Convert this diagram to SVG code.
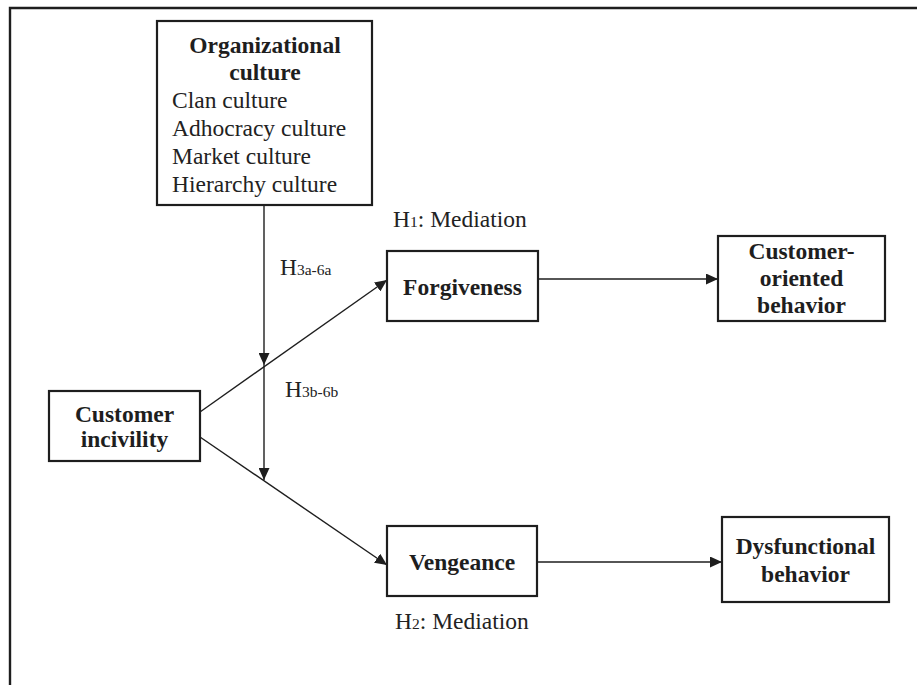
<svg xmlns="http://www.w3.org/2000/svg" width="917" height="685" viewBox="0 0 917 685">
<defs>
<marker id="ah" viewBox="0 0 12 11" refX="12" refY="5.5" markerWidth="12" markerHeight="11" markerUnits="userSpaceOnUse" orient="auto">
<path d="M0,0 L12,5.5 L0,11 Z" fill="#1e1e1e"/>
</marker>
<style>
.box{fill:#fff;stroke:#1e1e1e;stroke-width:2.2}
.b{font-family:"Liberation Serif","Times New Roman",serif;font-weight:bold;font-size:23.5px;fill:#1e1e1e;text-anchor:middle}
.r{font-family:"Liberation Serif","Times New Roman",serif;font-size:23.5px;fill:#222}
.sub{font-size:15.5px}
.ln{stroke:#1e1e1e;stroke-width:1.4;fill:none}
.frame{stroke:#1e1e1e;stroke-width:2.4;fill:none}
</style>
</defs>
<rect width="917" height="685" fill="#fff"/>
<path class="frame" d="M10,685 L10,8 L917,8"/>

<g id="connectors">
<line class="ln" x1="264" y1="206" x2="264" y2="365" marker-end="url(#ah)"/>
<line class="ln" x1="264" y1="365" x2="264" y2="480" marker-end="url(#ah)"/>
<line class="ln" x1="200" y1="412" x2="387" y2="280" marker-end="url(#ah)"/>
<line class="ln" x1="200" y1="437" x2="387" y2="565" marker-end="url(#ah)"/>
<line class="ln" x1="538" y1="279" x2="718" y2="279" marker-end="url(#ah)"/>
<line class="ln" x1="537" y1="562" x2="722" y2="562" marker-end="url(#ah)"/>
</g>

<g id="org-culture">
<rect class="box" x="157" y="21" width="215" height="184"/>
<text class="b" x="265" y="53">Organizational</text>
<text class="b" x="265" y="80">culture</text>
<text class="r" x="172" y="108">Clan culture</text>
<text class="r" x="172" y="136">Adhocracy culture</text>
<text class="r" x="172" y="164">Market culture</text>
<text class="r" x="172" y="192">Hierarchy culture</text>
</g>

<g id="customer-incivility">
<rect class="box" x="49" y="391" width="151" height="70"/>
<text class="b" x="124.5" y="422">Customer</text>
<text class="b" x="124.5" y="447">incivility</text>
</g>

<g id="forgiveness">
<rect class="box" x="387" y="251" width="151" height="70"/>
<text class="b" x="462.5" y="295">Forgiveness</text>
</g>

<g id="vengeance">
<rect class="box" x="387" y="526" width="150" height="70"/>
<text class="b" x="462" y="570">Vengeance</text>
</g>

<g id="customer-oriented">
<rect class="box" x="718" y="236" width="167" height="85"/>
<text class="b" x="801.5" y="259">Customer-</text>
<text class="b" x="801.5" y="286">oriented</text>
<text class="b" x="801.5" y="313">behavior</text>
</g>

<g id="dysfunctional">
<rect class="box" x="722" y="517" width="167" height="85"/>
<text class="b" x="805.5" y="554">Dysfunctional</text>
<text class="b" x="805.5" y="582">behavior</text>
</g>

<g id="labels">
<text class="r" x="393" y="227">H<tspan class="sub">1</tspan>: Mediation</text>
<text class="r" x="395" y="629">H<tspan class="sub">2</tspan>: Mediation</text>
<text class="r" x="280" y="275">H<tspan class="sub">3a-6a</tspan></text>
<text class="r" x="285" y="397">H<tspan class="sub">3b-6b</tspan></text>
</g>
</svg>
